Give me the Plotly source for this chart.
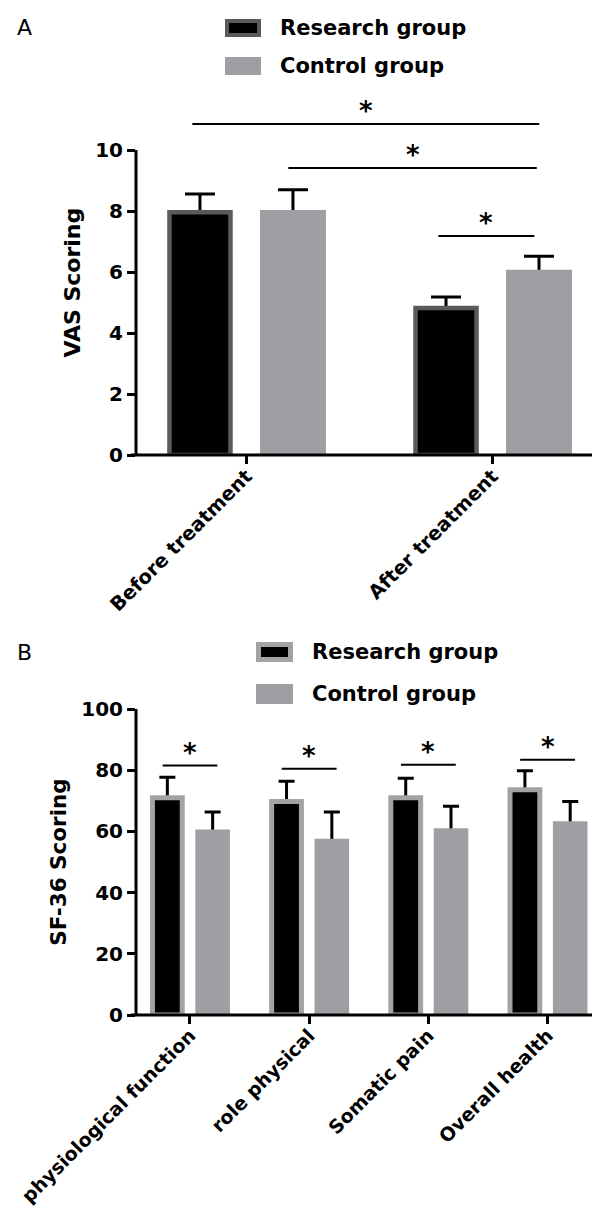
import plotly.graph_objects as go

W, H = 600, 1218

# ---------------- data ----------------
series_names = ["Research group", "Control group"]

a_categories = ["Before treatment", "After treatment"]
a_research = [7.96, 4.82]
a_research_sd = [0.60, 0.36]
a_control = [8.03, 6.07]
a_control_sd = [0.67, 0.45]
a_yticks = [0, 2, 4, 6, 8, 10]

b_categories = ["physiological function", "role physical", "Somatic pain", "Overall health"]
b_research = [71.0, 69.8, 71.0, 73.6]
b_research_sd = [6.7, 6.6, 6.4, 6.2]
b_control = [60.6, 57.6, 61.0, 63.3]
b_control_sd = [5.7, 8.7, 7.2, 6.5]
b_yticks = [0, 20, 40, 60, 80, 100]

# significance brackets: (x start, x end, height) in data units
a_sig = [(-0.22, 1.19, 10.85), (0.17, 1.18, 9.41), (0.78, 1.17, 7.18)]
b_sig_height = [81.5, 80.5, 81.8, 83.4]

# ---------------- styles ----------------
FONT = "DejaVu Sans"
BLACK = "#000000"
CONTROL = "#9f9ea3"
A_BORDER = "#5a5a5a"
B_BORDER = "#a3a3a3"


def fx(x):
    return x / W


def fy(y):
    return 1 - y / H


fig = go.Figure()


def add_panel(xa, ya, cats, rv, rsd, cv, csd, r_w, c_w, off, border, bw, cap):
    pos = list(range(len(cats)))
    specs = [
        (series_names[0], rv, rsd, -off - r_w / 2, r_w, BLACK, border, bw),
        (series_names[1], cv, csd, off - c_w / 2, c_w, CONTROL, CONTROL, 0),
    ]
    # error bars first (transparent bars) so the real bars hide the lower half
    for name, v, sd, o, w, col, lc, lw in specs:
        fig.add_trace(go.Bar(
            x=pos, y=v, offset=o, width=w, xaxis=xa, yaxis=ya,
            marker=dict(color="rgba(0,0,0,0)", line=dict(width=0)),
            error_y=dict(type="data", array=sd, visible=True, color=BLACK,
                         thickness=3, width=cap),
            showlegend=False, hoverinfo="skip", name=name))
    for name, v, sd, o, w, col, lc, lw in specs:
        fig.add_trace(go.Bar(
            x=pos, y=v, offset=o, width=w, xaxis=xa, yaxis=ya,
            marker=dict(color=col, line=dict(color=lc, width=lw)),
            showlegend=False, name=name))


add_panel("x", "y", a_categories, a_research, a_research_sd, a_control, a_control_sd,
          0.248, 0.268, 0.189, A_BORDER, 4.5, 15)
add_panel("x2", "y2", b_categories, b_research, b_research_sd, b_control, b_control_sd,
          0.25, 0.29, 0.19, B_BORDER, 5, 8)

tickfont = dict(family=FONT, size=20, color=BLACK, weight="bold")
common_x = dict(showgrid=False, zeroline=False, showline=False, ticks="outside",
                ticklen=8, tickwidth=3, tickcolor=BLACK, tickangle=-45,
                fixedrange=True, automargin=False,
                ticklabeloverflow="allow", ticklabelstandoff=-7)
common_y = dict(showgrid=False, zeroline=False, showline=False, ticks="outside",
                ticklen=8, tickwidth=3, tickcolor=BLACK, tickfont=tickfont,
                fixedrange=True, automargin=False, ticklabeloverflow="allow")

fig.update_layout(
    width=W, height=H, margin=dict(l=0, r=0, t=0, b=0, autoexpand=False),
    paper_bgcolor="white", plot_bgcolor="white", barmode="overlay",
    xaxis=dict(common_x, domain=[fx(128), fx(594)], range=[-0.449, 1.445],
               tickfont=dict(family=FONT, size=19.5, color=BLACK, weight="bold"),
               tickvals=list(range(len(a_categories))), ticktext=a_categories, anchor="y"),
    yaxis=dict(common_y, domain=[fy(447), fy(447 - 11.3 * 30.5)], range=[0, 11.3],
               tickvals=a_yticks, anchor="x",
               title=dict(text="VAS Scoring", standoff=8,
                          font=dict(family=FONT, size=22, color=BLACK, weight="bold"))),
    xaxis2=dict(common_x, domain=[fx(128), fx(592)], range=[-0.453, 3.44],
                tickfont=dict(family=FONT, size=19, color=BLACK, weight="bold"),
                tickvals=list(range(len(b_categories))), ticktext=b_categories, anchor="y2"),
    yaxis2=dict(common_y, domain=[fy(1007), fy(701)], range=[0, 100],
                tickvals=b_yticks, anchor="x2",
                title=dict(text="SF-36 Scoring", standoff=8,
                           font=dict(family=FONT, size=21.5, color=BLACK, weight="bold"))),
)

shapes = []
annotations = []
# axis lines
shapes.append(dict(type="line", xref="x domain", yref="y", x0=0, x1=0, y0=0, y1=max(a_yticks),
                   line=dict(color=BLACK, width=3), layer="above"))
shapes.append(dict(type="line", xref="x domain", yref="y domain", x0=-5 / 466, x1=1, y0=0, y1=0,
                   line=dict(color=BLACK, width=3), layer="above"))
shapes.append(dict(type="line", xref="x2 domain", yref="y2 domain", x0=0, x1=0, y0=0, y1=1,
                   line=dict(color=BLACK, width=3), layer="above"))
shapes.append(dict(type="line", xref="x2 domain", yref="y2 domain", x0=-5 / 464, x1=1, y0=0, y1=0,
                   line=dict(color=BLACK, width=3), layer="above"))

star_font = dict(family=FONT, size=26, color=BLACK, weight="bold")
# significance A
for x0, x1, yv in a_sig:
    shapes.append(dict(type="line", xref="x", yref="y", x0=x0, x1=x1, y0=yv, y1=yv,
                       line=dict(color=BLACK, width=2)))
    annotations.append(dict(xref="x", yref="y", x=(x0 + x1) / 2, y=yv, text="*",
                            showarrow=False, font=star_font, yanchor="bottom", yshift=-4))
# significance B
for i, yv in enumerate(b_sig_height):
    shapes.append(dict(type="line", xref="x2", yref="y2", x0=i - 0.23, x1=i + 0.23, y0=yv, y1=yv,
                       line=dict(color=BLACK, width=2)))
    annotations.append(dict(xref="x2", yref="y2", x=i, y=yv, text="*",
                            showarrow=False, font=star_font, yanchor="bottom", yshift=-4))

# legends (manual, large swatches)
leg_font = dict(family=FONT, size=21, color=BLACK, weight="bold")


def legend(x0, x1, rows, border, bw):
    for (ya, yb), name, fill, lc, lw in zip(rows, series_names, [BLACK, CONTROL],
                                            [border, CONTROL], [bw, 0]):
        h = lw / 2
        shapes.append(dict(type="rect", xref="paper", yref="paper",
                           x0=fx(x0 + h), x1=fx(x1 - h), y0=fy(yb - h), y1=fy(ya + h),
                           fillcolor=fill, line=dict(color=lc, width=lw)))
        annotations.append(dict(xref="paper", yref="paper", x=fx(x1 + 17), y=fy((ya + yb) / 2),
                                text=name, showarrow=False, font=leg_font,
                                xanchor="left", yanchor="middle"))


legend(217, 253, [(11, 29), (49, 67)], A_BORDER, 4)
legend(248, 285, [(634, 654), (676, 696)], B_BORDER, 5)

# panel letters
for letter, yc in [("A", 20), ("B", 644)]:
    annotations.append(dict(xref="paper", yref="paper", x=fx(7), y=fy(yc), text=letter,
                            showarrow=False, xanchor="left", yanchor="middle",
                            font=dict(family=FONT, size=22, color=BLACK)))

fig.update_layout(shapes=shapes, annotations=annotations)
fig.write_html("out.html")
